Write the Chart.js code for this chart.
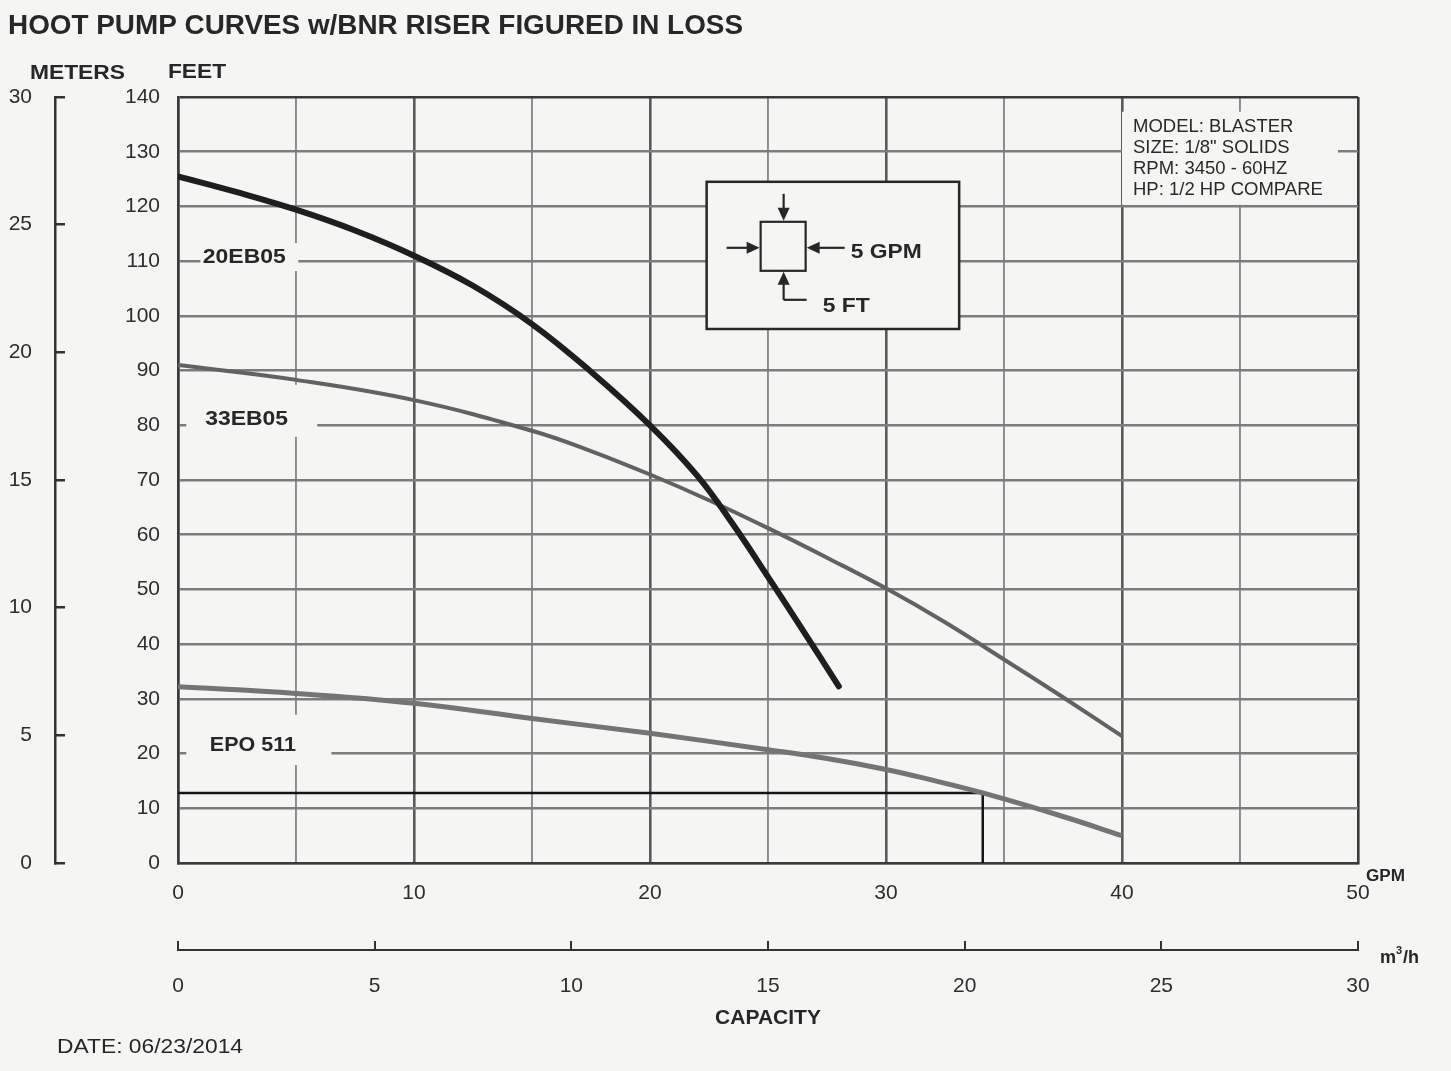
<!DOCTYPE html>
<html lang="en">
<head>
  <meta charset="UTF-8">
  <title>Hoot Pump Curves</title>
  <script src="https://cdn.jsdelivr.net/npm/chart.js"></script>
  <style>
    html, body { margin: 0; padding: 0; background: #f5f5f3; }
    #wrap { width: 1451px; height: 1071px; }
  </style>
</head>
<body>
<div id="wrap"><canvas id="pumpChart" width="1451" height="1071"></canvas></div>

<script>
  // capacity (GPM) vs head (FEET)
  const gpm20EB05 = [0, 2.5, 5, 7.5, 10, 12.5, 15, 17.5, 20, 22, 23.5, 25, 26.5, 28];
  const head20EB05 = [125.5, 122.6, 119.4, 115.6, 111, 105.5, 98.5, 89.8, 80, 70.8, 62, 52.3, 42.4, 32.3];

  const gpm33EB05 = [0, 5, 10, 15, 17.5, 20, 22.5, 25, 27.5, 30, 32.5, 35, 37.5, 40];
  const head33EB05 = [91, 88.3, 84.6, 79, 75.3, 71, 66.3, 61.2, 55.8, 50.2, 44, 37.2, 30.3, 23.2];

  const gpmEPO511 = [0, 5, 10, 15, 20, 25, 27.5, 30, 32, 34.1, 37.5, 40];
  const headEPO511 = [32.2, 31, 29.2, 26.4, 23.7, 20.7, 19.1, 17.1, 15.1, 12.8, 8.5, 5];

  // duty point lines (black)
  const gpmDuty = [0, 34.1, 34.1];
  const headDuty = [12.8, 12.8, 0];

  // axes
  const gpmRange = [0, 50];
  const feetRange = [0, 140];
  const metersRange = [0, 30];
  const m3hRange = [0, 30];

  const curveNames = ['20EB05', '33EB05', 'EPO 511'];
  const specLines = ['MODEL: BLASTER', 'SIZE: 1/8" SOLIDS', 'RPM: 3450 - 60HZ', 'HP: 1/2 HP COMPARE'];

  const fontFamily = "'Liberation Sans', Arial, Helvetica, sans-serif";
  const ink = '#272727';
  const paper = '#f5f5f3';

  function xy(xs, ys) {
    return xs.map((x, i) => ({ x: x, y: ys[i] }));
  }

  // draw text squeezed/stretched to a given width
  function fitText(ctx, text, x, y, width) {
    const w = ctx.measureText(text).width;
    ctx.save();
    ctx.translate(x, y);
    if (width && w > 0) ctx.scale(width / w, 1);
    ctx.fillText(text, 0, 0);
    ctx.restore();
  }

  function arrow(ctx, x1, y1, x2, y2) {
    const a = Math.atan2(y2 - y1, x2 - x1);
    ctx.beginPath();
    ctx.moveTo(x1, y1);
    ctx.lineTo(x2 - 8 * Math.cos(a), y2 - 8 * Math.sin(a));
    ctx.stroke();
    ctx.beginPath();
    ctx.moveTo(x2, y2);
    ctx.lineTo(x2 - 13 * Math.cos(a) + 6 * Math.sin(a), y2 - 13 * Math.sin(a) - 6 * Math.cos(a));
    ctx.lineTo(x2 - 13 * Math.cos(a) - 6 * Math.sin(a), y2 - 13 * Math.sin(a) + 6 * Math.cos(a));
    ctx.closePath();
    ctx.fill();
  }

  // label boxes inside the plot, positioned in GPM / FEET
  const curveTags = [
    { text: curveNames[0], at: [1.05, 110.8], box: [0.95, 5.1, 113.3, 108.2] },
    { text: curveNames[1], at: [1.15, 81.2], box: [0.35, 5.9, 87.4, 77.9] },
    { text: curveNames[2], at: [1.35, 21.6], box: [0.35, 6.5, 27.1, 17.9] }
  ];
  const specBox = [40, 49.15, 137.3, 120.3];
  const insetBox = [22.4, 33.1, 124.5, 97.6];

  const sheetPlugin = {
    id: 'sheet',
    beforeDraw(chart) {
      const ctx = chart.ctx;
      ctx.save();
      ctx.fillStyle = paper;
      ctx.fillRect(0, 0, chart.width, chart.height);
      ctx.restore();
    },
    beforeDatasetsDraw(chart) {
      const ctx = chart.ctx;
      const xs = chart.scales.x;
      const ys = chart.scales.y;
      const rect = (b) => {
        const x0 = xs.getPixelForValue(b[0]), x1 = xs.getPixelForValue(b[1]);
        const y0 = ys.getPixelForValue(b[2]), y1 = ys.getPixelForValue(b[3]);
        return [x0, y0, x1 - x0, y1 - y0];
      };
      ctx.save();
      ctx.textBaseline = 'middle';
      ctx.textAlign = 'left';

      // curve names
      curveTags.forEach(t => {
        ctx.fillStyle = paper;
        ctx.fillRect(...rect(t.box));
        ctx.fillStyle = ink;
        ctx.font = 'bold 21px ' + fontFamily;
        fitText(ctx, t.text, xs.getPixelForValue(t.at[0]), ys.getPixelForValue(t.at[1]), t.text === 'EPO 511' ? 86 : 83);
      });

      // model / size / rpm / hp
      ctx.fillStyle = paper;
      ctx.fillRect(...rect(specBox));
      ctx.fillStyle = '#2a2a2a';
      ctx.font = '18.5px ' + fontFamily;
      const sx = xs.getPixelForValue(specBox[0]) + 11;
      const sy = ys.getPixelForValue(specBox[2]) + 15;
      specLines.forEach((s, i) => fitText(ctx, s, sx, sy + i * 21));

      // 5 GPM / 5 FT inset
      const r = rect(insetBox);
      ctx.fillStyle = paper;
      ctx.fillRect(...r);
      ctx.strokeStyle = ink;
      ctx.lineWidth = 2.5;
      ctx.strokeRect(...r);
      const bx = r[0], by = r[1];
      ctx.lineWidth = 2.2;
      ctx.fillStyle = ink;
      ctx.strokeRect(bx + 54, by + 40, 45, 49);
      arrow(ctx, bx + 77, by + 12, bx + 77, by + 39);
      arrow(ctx, bx + 20, by + 66, bx + 53, by + 66);
      arrow(ctx, bx + 138, by + 66, bx + 100, by + 66);
      ctx.beginPath();
      ctx.moveTo(bx + 100, by + 118);
      ctx.lineTo(bx + 77, by + 118);
      ctx.stroke();
      arrow(ctx, bx + 77, by + 118, bx + 77, by + 90);
      ctx.font = 'bold 21px ' + fontFamily;
      fitText(ctx, '5 GPM', bx + 144, by + 70, 71);
      fitText(ctx, '5 FT', bx + 116, by + 124, 47);
      ctx.restore();
    },
    afterDraw(chart) {
      const ctx = chart.ctx;
      const area = chart.chartArea;
      const m3 = chart.scales.m3h;
      ctx.save();
      ctx.fillStyle = ink;
      ctx.textBaseline = 'middle';
      ctx.textAlign = 'left';

      ctx.font = 'bold 27px ' + fontFamily;
      fitText(ctx, 'HOOT PUMP CURVES w/BNR RISER FIGURED IN LOSS', 8, 27, 735);

      ctx.font = 'bold 21px ' + fontFamily;
      fitText(ctx, 'METERS', 30, 73, 95);
      fitText(ctx, 'FEET', 168, 72, 58);

      ctx.font = 'bold 16px ' + fontFamily;
      fitText(ctx, 'GPM', area.right + 8, area.bottom + 14, 39);

      ctx.font = 'bold 18px ' + fontFamily;
      ctx.fillText('m', m3.right + 22, m3.top + 8);
      const mw = ctx.measureText('m').width;
      ctx.font = 'bold 11px ' + fontFamily;
      ctx.fillText('3', m3.right + 22 + mw, m3.top + 1);
      ctx.font = 'bold 18px ' + fontFamily;
      ctx.fillText('/h', m3.right + 22 + mw + 7, m3.top + 8);

      ctx.font = '21px ' + fontFamily;
      fitText(ctx, 'DATE: 06/23/2014', 57, 1047, 186);
      ctx.restore();
    }
  };

  const tickFont = { family: fontFamily, size: 21 };

  function createChart() {
    const ctx = document.getElementById('pumpChart').getContext('2d');
    return new Chart(ctx, {
      type: 'line',
      data: {
        datasets: [
          {
            label: curveNames[0],
            data: xy(gpm20EB05, head20EB05),
            borderColor: '#1e1e1e',
            borderWidth: 6,
            borderCapStyle: 'round',
            tension: 0.4,
            pointRadius: 0
          },
          {
            label: curveNames[1],
            data: xy(gpm33EB05, head33EB05),
            borderColor: '#626262',
            borderWidth: 4,
            tension: 0.4,
            pointRadius: 0
          },
          {
            label: curveNames[2],
            data: xy(gpmEPO511, headEPO511),
            borderColor: '#747474',
            borderWidth: 5,
            tension: 0.4,
            pointRadius: 0
          },
          {
            label: 'duty',
            data: xy(gpmDuty, headDuty),
            borderColor: '#151515',
            borderWidth: 2.5,
            tension: 0,
            pointRadius: 0
          }
        ]
      },
      options: {
        responsive: false,
        animation: false,
        events: [],
        layout: { padding: { left: 0, top: 97, right: 93, bottom: 31 } },
        plugins: {
          legend: { display: false },
          title: { display: false },
          tooltip: { enabled: false }
        },
        scales: {
          x: {
            type: 'linear',
            position: 'bottom',
            weight: 0,
            min: gpmRange[0],
            max: gpmRange[1],
            ticks: {
              stepSize: 5,
              padding: 18,
              color: '#2e2e2e',
              font: tickFont,
              maxRotation: 0,
              callback: v => (v % 10 === 0 ? v : '')
            },
            grid: {
              drawTicks: false,
              color: c => (c.tick.value === gpmRange[1] ? '#3a3a3a' : c.tick.value % 10 === 0 ? '#5a5a5a' : '#8a8a8a'),
              lineWidth: c => (c.tick.value % 10 === 0 ? 2.6 : 1.9)
            },
            border: { display: true, color: '#3a3a3a', width: 2.5 },
            afterFit: s => { s.height = 87; }
          },
          m3h: {
            type: 'linear',
            position: 'bottom',
            weight: 1,
            min: m3hRange[0],
            max: m3hRange[1],
            ticks: { stepSize: 5, padding: 33, color: '#2e2e2e', font: tickFont, maxRotation: 0 },
            grid: { drawOnChartArea: false, tickLength: -9, color: '#333', lineWidth: 2 },
            border: { display: true, color: '#333', width: 2 },
            title: {
              display: true,
              text: 'CAPACITY',
              color: ink,
              font: { family: fontFamily, size: 21, weight: 'bold' },
              padding: { top: 0, bottom: 9 }
            },
            afterFit: s => { s.height = 90; }
          },
          y: {
            type: 'linear',
            position: 'left',
            weight: 0,
            min: feetRange[0],
            max: feetRange[1],
            ticks: {
              stepSize: 5,
              padding: 18,
              color: '#2e2e2e',
              font: tickFont,
              callback: v => (v % 10 === 0 ? v : '')
            },
            grid: {
              drawTicks: false,
              color: c => (c.tick.value === feetRange[1] ? '#3a3a3a' : '#7c7c7c'),
              lineWidth: 2.5
            },
            border: { display: true, color: '#3a3a3a', width: 2.5 },
            afterFit: s => { s.width = 123; }
          },
          meters: {
            type: 'linear',
            position: 'left',
            weight: 1,
            min: metersRange[0],
            max: metersRange[1],
            ticks: { stepSize: 5, padding: 33, color: '#2e2e2e', font: tickFont },
            grid: { drawOnChartArea: false, tickLength: -10, color: '#333', lineWidth: 2.5 },
            border: { display: true, color: '#333', width: 2.5 },
            afterFit: s => { s.width = 55; }
          }
        }
      },
      plugins: [sheetPlugin]
    });
  }

  createChart();
</script>
</body>
</html>
